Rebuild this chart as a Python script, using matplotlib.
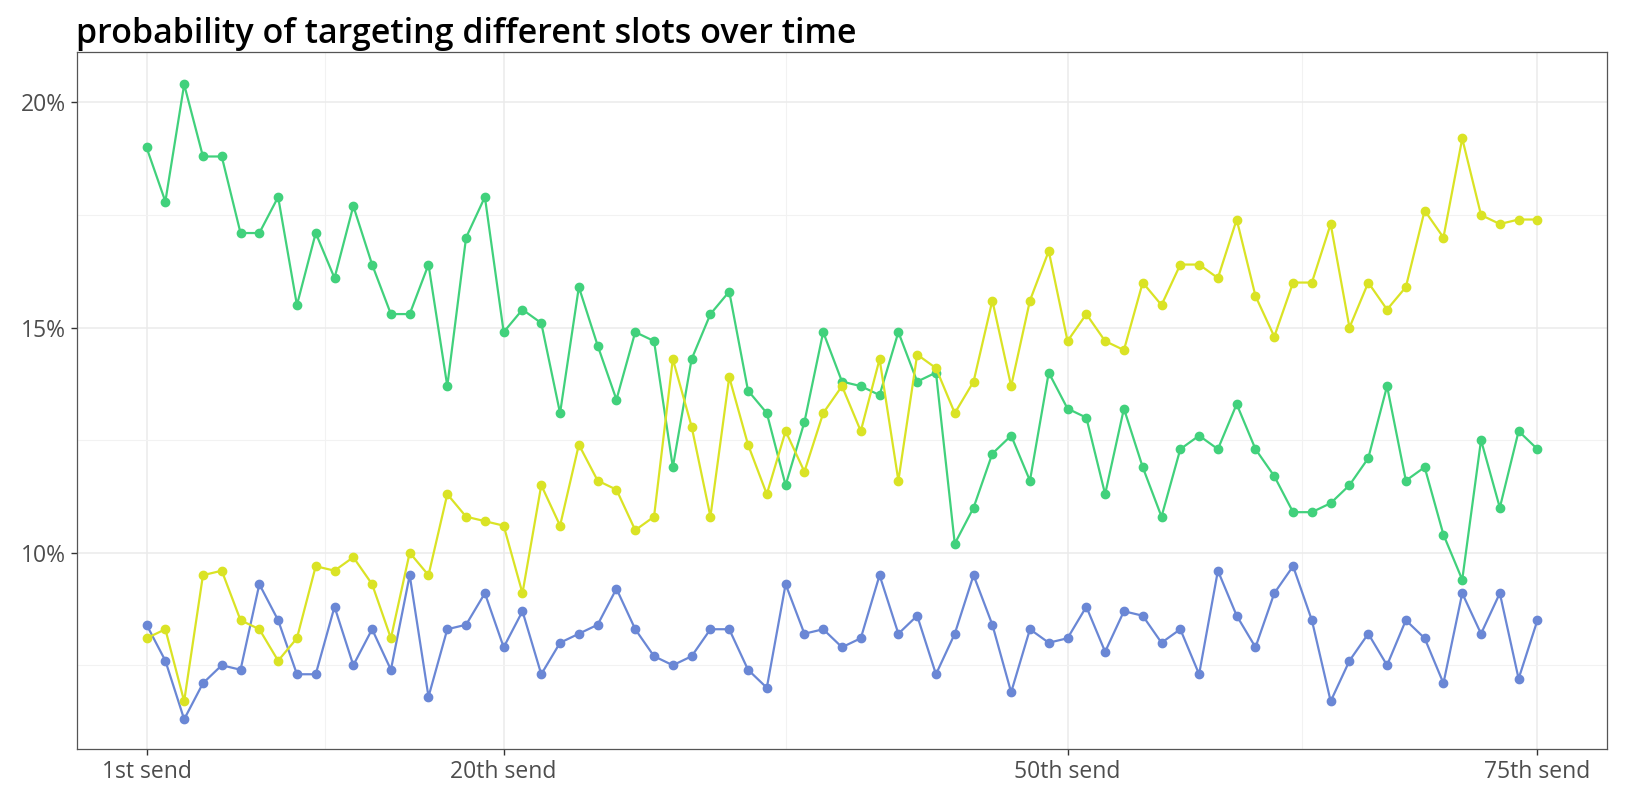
import numpy as np
import matplotlib
matplotlib.use("Agg")
import matplotlib.pyplot as plt
from matplotlib.ticker import FixedLocator, FuncFormatter

# номер отправки
sends = np.arange(1, 76)

# вероятности, %
blue = [8.4, 7.6, 6.3, 7.1, 7.5, 7.4, 9.3, 8.5, 7.3, 7.3,
        8.8, 7.5, 8.3, 7.4, 9.5, 6.8, 8.3, 8.4, 9.1, 7.9,
        8.7, 7.3, 8.0, 8.2, 8.4, 9.2, 8.3, 7.7, 7.5, 7.7,
        8.3, 8.3, 7.4, 7.0, 9.3, 8.2, 8.3, 7.9, 8.1, 9.5,
        8.2, 8.6, 7.3, 8.2, 9.5, 8.4, 6.9, 8.3, 8.0, 8.1,
        8.8, 7.8, 8.7, 8.6, 8.0, 8.3, 7.3, 9.6, 8.6, 7.9,
        9.1, 9.7, 8.5, 6.7, 7.6, 8.2, 7.5, 8.5, 8.1, 7.1,
        9.1, 8.2, 9.1, 7.2, 8.5]

green = [19.0, 17.8, 20.4, 18.8, 18.8, 17.1, 17.1, 17.9, 15.5, 17.1,
         16.1, 17.7, 16.4, 15.3, 15.3, 16.4, 13.7, 17.0, 17.9, 14.9,
         15.4, 15.1, 13.1, 15.9, 14.6, 13.4, 14.9, 14.7, 11.9, 14.3,
         15.3, 15.8, 13.6, 13.1, 11.5, 12.9, 14.9, 13.8, 13.7, 13.5,
         14.9, 13.8, 14.0, 10.2, 11.0, 12.2, 12.6, 11.6, 14.0, 13.2,
         13.0, 11.3, 13.2, 11.9, 10.8, 12.3, 12.6, 12.3, 13.3, 12.3,
         11.7, 10.9, 10.9, 11.1, 11.5, 12.1, 13.7, 11.6, 11.9, 10.4,
         9.4, 12.5, 11.0, 12.7, 12.3]

yellow = [8.1, 8.3, 6.7, 9.5, 9.6, 8.5, 8.3, 7.6, 8.1, 9.7,
          9.6, 9.9, 9.3, 8.1, 10.0, 9.5, 11.3, 10.8, 10.7, 10.6,
          9.1, 11.5, 10.6, 12.4, 11.6, 11.4, 10.5, 10.8, 14.3, 12.8,
          10.8, 13.9, 12.4, 11.3, 12.7, 11.8, 13.1, 13.7, 12.7, 14.3,
          11.6, 14.4, 14.1, 13.1, 13.8, 15.6, 13.7, 15.6, 16.7, 14.7,
          15.3, 14.7, 14.5, 16.0, 15.5, 16.4, 16.4, 16.1, 17.4, 15.7,
          14.8, 16.0, 16.0, 17.3, 15.0, 16.0, 15.4, 15.9, 17.6, 17.0,
          19.2, 17.5, 17.3, 17.4, 17.4]

xticks = [1, 20, 50, 75]
xlabels = ["1st send", "20th send", "50th send", "75th send"]

plt.rcParams['font.family'] = ['Open Sans', 'DejaVu Sans']

fig = plt.figure(figsize=(16.25, 7.92), dpi=100)
ax = fig.add_axes([0.0474, 0.0543, 0.9415, 0.8800])

for vals, col in [(blue, "#6a87d5"), (green, "#41d17c"), (yellow, "#dae325")]:
    ax.plot(sends, np.array(vals) / 100, "-", color=col, lw=1.6,
            marker="o", ms=6, zorder=3)

ax.set_xlim(-2.7, 78.7)
ax.set_ylim(0.0564, 0.2112)

ax.xaxis.set_major_locator(FixedLocator(xticks))
ax.xaxis.set_minor_locator(FixedLocator([10.5, 35, 62.5]))
ax.set_xticklabels(xlabels)
ax.yaxis.set_major_locator(FixedLocator([0.10, 0.15, 0.20]))
ax.yaxis.set_minor_locator(FixedLocator([0.075, 0.125, 0.175]))
ax.yaxis.set_major_formatter(FuncFormatter(lambda v, p: "%d%%" % round(v * 100)))

ax.grid(which="major", color="#ebebeb", lw=1.1, zorder=0)
ax.grid(which="minor", color="#f2f2f2", lw=0.8, zorder=0)
ax.set_axisbelow(True)

for s in ax.spines.values():
    s.set_color("#555555")
    s.set_linewidth(0.9)

ax.tick_params(which="major", length=4, width=1, color="#333333",
               labelsize=16.5, labelcolor="#4d4d4d", pad=4)
ax.tick_params(which="minor", length=0)

fig.text(0.047, 0.978, "probability of targeting different slots over time",
         fontsize=24.5, fontweight="semibold", color="black", va="top", ha="left")

fig.savefig("out.png", dpi=100, facecolor="white")
